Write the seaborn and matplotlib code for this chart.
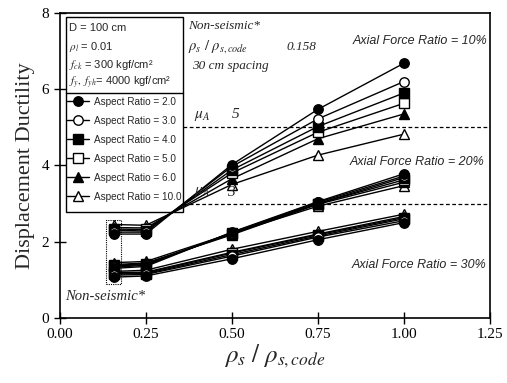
import matplotlib
matplotlib.use("Agg")
import matplotlib.pyplot as plt
import seaborn as sns
import pandas as pd
from matplotlib.patches import Rectangle

# ---------------- data ----------------
rho_ratio = [0.158, 0.25, 0.5, 0.75, 1.0]
aspect_labels = ["2.0", "3.0", "4.0", "5.0", "6.0", "10.0"]

# displacement ductility, rows = aspect ratio 2,3,4,5,6,10
duct_axial10 = [
    [2.20, 2.20, 4.02, 5.47, 6.68],
    [2.25, 2.25, 3.97, 5.22, 6.20],
    [2.30, 2.28, 3.88, 5.02, 5.90],
    [2.33, 2.32, 3.80, 4.87, 5.63],
    [2.37, 2.36, 3.65, 4.70, 5.35],
    [2.45, 2.43, 3.50, 4.27, 4.82],
]
duct_axial20 = [
    [1.30, 1.35, 2.25, 3.05, 3.78],
    [1.33, 1.38, 2.24, 3.03, 3.72],
    [1.36, 1.40, 2.22, 3.00, 3.68],
    [1.38, 1.42, 2.20, 3.00, 3.62],
    [1.40, 1.44, 2.18, 2.98, 3.56],
    [1.45, 1.48, 2.22, 2.93, 3.47],
]
duct_axial30 = [
    [1.07, 1.10, 1.55, 2.05, 2.50],
    [1.12, 1.14, 1.62, 2.12, 2.55],
    [1.15, 1.16, 1.66, 2.15, 2.60],
    [1.17, 1.18, 1.70, 2.18, 2.63],
    [1.19, 1.20, 1.72, 2.20, 2.66],
    [1.22, 1.25, 1.80, 2.27, 2.72],
]
axial_labels = ["10%", "20%", "30%"]

rows = []
for axl, grp in zip(axial_labels, [duct_axial10, duct_axial20, duct_axial30]):
    for asp, vals in zip(aspect_labels, grp):
        for xv, yv in zip(rho_ratio, vals):
            rows.append({"axial": axl, "aspect": asp, "ratio": xv, "ductility": yv})
df = pd.DataFrame(rows)

marker_map = {"2.0": "o", "3.0": "o", "4.0": "s", "5.0": "s", "6.0": "^", "10.0": "^"}
face_map = {"2.0": "black", "3.0": "white", "4.0": "black", "5.0": "white",
            "6.0": "black", "10.0": "white"}

# ---------------- style ----------------
sns.set_style("ticks")
plt.rcParams["font.family"] = ["Liberation Serif", "DejaVu Serif"]
plt.rcParams["mathtext.fontset"] = "stix"

fig = plt.figure(figsize=(5.07, 3.83), dpi=100)
ax = fig.add_axes([0.118, 0.170, 0.848, 0.796])

handles = {}
for axl in axial_labels:
    for asp in aspect_labels[::-1]:
        sub = df[(df.axial == axl) & (df.aspect == asp)]
        sns.lineplot(data=sub, x="ratio", y="ductility", ax=ax, color="black",
                     marker=marker_map[asp], markersize=6.8,
                     markerfacecolor=face_map[asp], markeredgecolor="black",
                     markeredgewidth=1.0, linewidth=1.0, estimator=None,
                     sort=False, legend=False)
        if axl == "10%":
            handles[asp] = ax.lines[-1]

ax.set_xlim(0, 1.25)
ax.set_ylim(0, 8)
ax.set_xticks([0.0, 0.25, 0.5, 0.75, 1.0, 1.25])
ax.set_xticklabels(["0.00", "0.25", "0.50", "0.75", "1.00", "1.25"])
ax.set_yticks([0, 2, 4, 6, 8])
ax.tick_params(direction="inout", length=8, width=1.0, labelsize=11, colors="black")
for s in ax.spines.values():
    s.set_linewidth(1.2)
    s.set_color("black")

ax.set_ylabel("Displacement Ductility", fontsize=16, labelpad=5)
ax.set_xlabel(r"$\rho_s\ /\ \rho_{s,code}$", fontsize=18, labelpad=1)

# reference lines
ax.hlines([5, 3], xmin=0.357, xmax=1.25, colors="black", linestyles=(0, (3, 2)), linewidth=0.9)
ax.text(0.39, 5.25, r"$\mu_A$", fontsize=11, style="italic")
ax.text(0.50, 5.25, "5", fontsize=11, style="italic")
ax.text(0.39, 3.25, r"$\mu_A$", fontsize=11, style="italic")
ax.text(0.485, 3.2, "3", fontsize=11, style="italic")

# dotted box around non-seismic points
ax.add_patch(Rectangle((0.134, 0.9), 0.044, 1.67, fill=False, linestyle=(0, (1, 1)),
                       linewidth=0.8, edgecolor="black"))

# annotation texts
sans = ["Liberation Sans", "DejaVu Sans"]
ax.text(1.243, 7.26, "Axial Force Ratio = 10%", family=sans, style="italic",
        fontsize=9, ha="right", va="center")
ax.text(1.235, 4.1, "Axial Force Ratio = 20%", family=sans, style="italic",
        fontsize=9, ha="right", va="center")
ax.text(1.24, 1.39, "Axial Force Ratio = 30%", family=sans, style="italic",
        fontsize=9, ha="right", va="center")

ax.text(0.372, 7.66, "Non-seismic*", style="italic", fontsize=9.5, va="center")
ax.text(0.372, 7.12, r"$\rho_s\ /\ \rho_{s,code}$", fontsize=10.5, va="center")
ax.text(0.66, 7.12, "0.158", style="italic", fontsize=9.5, va="center")
ax.text(0.384, 6.6, "30 cm spacing", style="italic", fontsize=9.5, va="center")
ax.text(0.015, 0.55, "Non-seismic*", style="italic", fontsize=10.5, va="center")

# info / legend box
ax.add_patch(Rectangle((0.017, 2.79), 0.34, 5.11, fill=False, linewidth=1.0,
                       edgecolor="black", zorder=5))
ax.plot([0.017, 0.357], [5.9, 5.9], color="black", linewidth=1.0, zorder=5)
info = ["D = 100 cm", r"$\rho_l$ = 0.01", r"$f_{ck}$ = 300 kgf/cm²",
        r"$f_y,\ f_{yh}$= 4000 kgf/cm²"]
for t, yy in zip(info, [7.62, 7.12, 6.64, 6.16]):
    ax.text(0.027, yy, t, family=sans, fontsize=8, va="center")

leg = ax.legend([handles[a] for a in aspect_labels],
                ["Aspect Ratio = " + a for a in aspect_labels],
                loc="upper left", bbox_to_anchor=(0.012, 5.88),
                bbox_transform=ax.transData, frameon=False,
                prop={"family": sans, "size": 7.2}, handlelength=2.2,
                handletextpad=0.5, labelspacing=0.9, borderaxespad=0,
                borderpad=0.3)

fig.savefig("out.png", dpi=100)
